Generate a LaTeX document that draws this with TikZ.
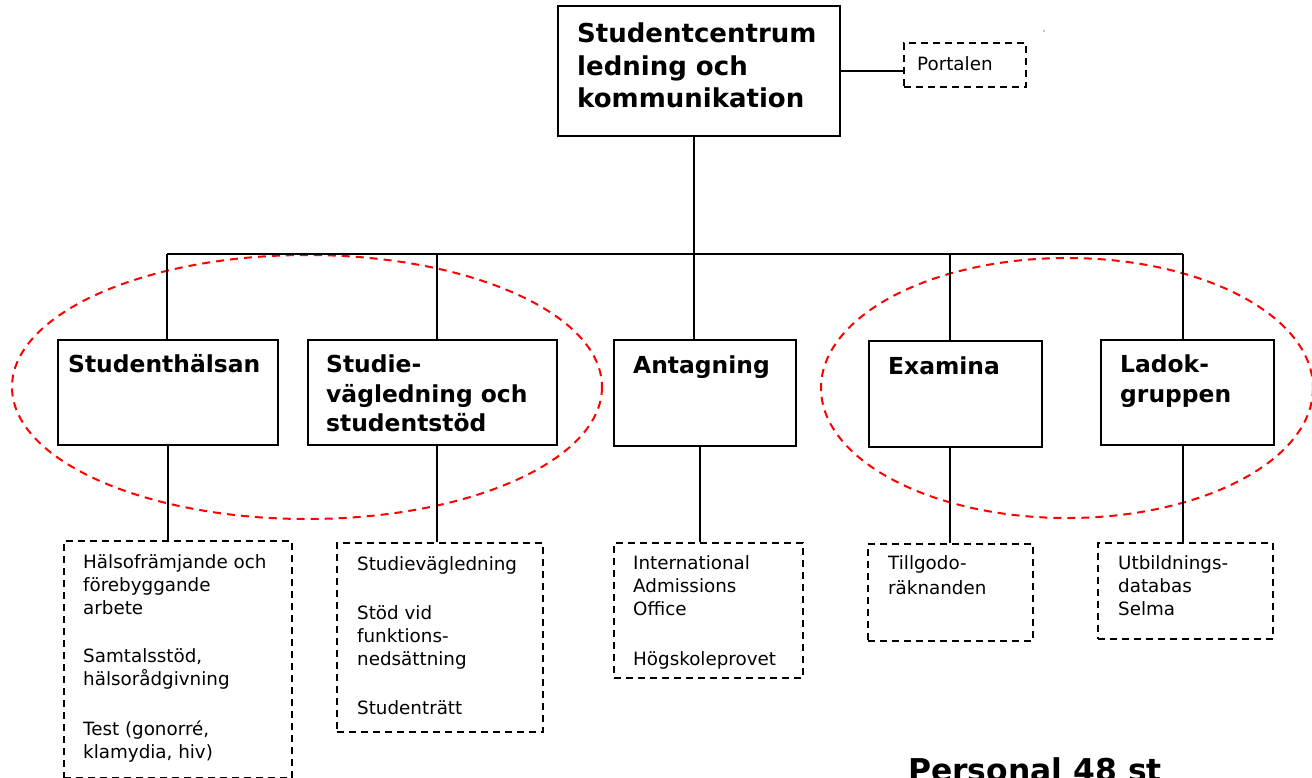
\documentclass[tikz,border=0pt]{standalone}
\usepackage{fontspec}
\setmainfont{DejaVu Sans}
\begin{document}
\begin{tikzpicture}[x=1pt,y=-1pt,
  solidbox/.style={draw, line width=2.2pt, inner sep=0pt, anchor=north west},
  dashbox/.style={draw, line width=2.2pt, dash pattern=on 7pt off 5pt, inner sep=0pt, anchor=north west},
  conn/.style={line width=1.8pt},
  grp/.style={draw=red, line width=2pt, dash pattern=on 8pt off 6pt},
  titletext/.style={font=\fontsize{26pt}{32.5pt}\selectfont\bfseries, align=left, anchor=base west, inner sep=0pt},
  headtext/.style={font=\fontsize{23.4pt}{29.5pt}\selectfont\bfseries, align=left, anchor=base west, inner sep=0pt},
  smalltext/.style={font=\fontsize{18.3pt}{23pt}\selectfont, align=left, anchor=base west, inner sep=0pt},
  bigtext/.style={font=\fontsize{31.4pt}{38pt}\selectfont\bfseries, anchor=base west, inner sep=0pt}
]
\clip (0,0) rectangle (1312,777);
\fill[white] (0,0) rectangle (1312,777);

% group ellipses
\draw[grp] (307,387) ellipse [x radius=295, y radius=132];
\draw[grp] (1067,388) ellipse [x radius=246, y radius=130];

% top box and portal (text nodes anchored at the baseline of their last line)
\node[solidbox, minimum width=282pt, minimum height=130pt] (top) at (557,5) {};
\node[titletext] (toptxt) at (577,107.5) {Studentcentrum\\ledning och\\kommunikation};
\node[dashbox, minimum width=122pt, minimum height=44pt] (portal) at (903,42) {};
\node[smalltext] (portaltxt) at (917,70.5) {Portalen};
\fill[gray] (1044,31) circle (0.8pt);

% bus junctions
\coordinate (j1) at (167,254);
\coordinate (j2) at (437,254);
\coordinate (j3) at (694,254);
\coordinate (j4) at (950,254);
\coordinate (j5) at (1183,254);

% second-level boxes
\node[solidbox, minimum width=220pt, minimum height=105pt] (sh) at (57,339) {};
\node[headtext] (shtxt) at (68,372.5) {Studenthälsan};
\node[solidbox, minimum width=249pt, minimum height=105pt] (sv) at (307,339) {};
\node[headtext] (svtxt) at (326,431.5) {Studie-\\vägledning och\\studentstöd};
\node[solidbox, minimum width=182pt, minimum height=106pt] (an) at (613,339) {};
\node[headtext] (antxt) at (633,373.5) {Antagning};
\node[solidbox, minimum width=173pt, minimum height=106pt] (ex) at (868,340) {};
\node[headtext] (extxt) at (888,374.5) {Examina};
\node[solidbox, minimum width=173pt, minimum height=105pt] (la) at (1100,339) {};
\node[headtext] (latxt) at (1120,402) {Ladok-\\gruppen};

% third-level dashed boxes
\node[dashbox, minimum width=228pt, minimum height=237pt] (dA) at (63,540) {};
\node[smalltext] (dAtxt) at (83,758) {Hälsofrämjande och\\förebyggande\\arbete\\[25pt]Samtalsstöd,\\hälsorådgivning\\[27pt]Test (gonorré,\\klamydia, hiv)};
\node[dashbox, minimum width=206pt, minimum height=189pt] (dB) at (336,542) {};
\node[smalltext] (dBtxt) at (357,714) {Studievägledning\\[26pt]Stöd vid\\funktions-\\nedsättning\\[26pt]Studenträtt};
\node[dashbox, minimum width=189pt, minimum height=135pt] (dC) at (613,542) {};
\node[smalltext] (dCtxt) at (633,665) {International\\Admissions\\Office\\[27pt]Högskoleprovet};
\node[dashbox, minimum width=165pt, minimum height=97pt] (dD) at (867,543) {};
\node[smalltext] (dDtxt) at (888,594) {Tillgodo-\\[2pt]räknanden};
\node[dashbox, minimum width=175pt, minimum height=96pt] (dE) at (1097,542) {};
\node[smalltext] (dEtxt) at (1118,615) {Utbildnings-\\databas\\Selma};

\node[bigtext] (pers) at (908,781) {Personal 48 st};

% connectors
\draw[conn] (top.east) -- (top.east -| portal.west);
\draw[conn] (top.south -| j3) -- (j3);
\draw[conn] (j1) -- (j5);
\draw[conn] (j1) -- (j1 |- sh.north);
\draw[conn] (j2) -- (j2 |- sv.north);
\draw[conn] (j3) -- (j3 |- an.north);
\draw[conn] (j4) -- (j4 |- ex.north);
\draw[conn] (j5) -- (j5 |- la.north);
\draw[conn] (sh.south) -- (sh.south |- dA.north);
\draw[conn] (sv.south -| j2) -- (j2 |- dB.north);
\draw[conn] (an.south) ++(-5,0) coordinate (ab) -- (ab |- dC.north);
\draw[conn] (ex.south -| j4) -- (j4 |- dD.north);
\draw[conn] (la.south -| j5) -- (j5 |- dE.north);
\end{tikzpicture}
\end{document}
